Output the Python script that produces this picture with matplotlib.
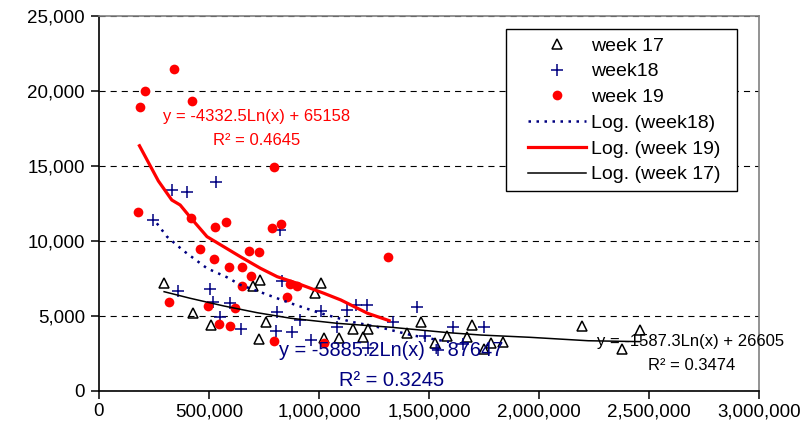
import matplotlib
matplotlib.use('Agg')
import matplotlib.pyplot as plt
from matplotlib.patches import Rectangle
from matplotlib.ticker import FuncFormatter

plt.rcParams['font.family'] = ['Liberation Sans', 'DejaVu Sans']

# scatter data
wk17_x = [294000, 429000, 509000, 701000, 732000, 759000, 727000, 1009000, 980000, 1024000,
          1091000, 1154000, 1222000, 1198000, 1400000, 1464000, 1529000, 1582000, 1674000, 1694000,
          1752000, 1780000, 1836000, 2197000, 2379000, 2461000]
wk17_y = [7220, 5200, 4400, 7030, 7430, 4600, 3470, 7230, 6510, 3500,
          3510, 4130, 4130, 3570, 3890, 4580, 3180, 3670, 3620, 4430,
          2830, 3180, 3290, 4330, 2810, 4050]

wk18_x = [246000, 331000, 400000, 534000, 360000, 504000, 518000, 595000, 550000, 645000,
          825000, 830000, 807000, 1008000, 803000, 879000, 964000, 1082000, 913000, 1126000,
          1167000, 1218000, 1221000, 1335000, 1446000, 1480000, 1540000, 1610000, 1655000, 1751000]
wk18_y = [11400, 13400, 13250, 13910, 6690, 6800, 5910, 5890, 4930, 4130,
          10730, 7330, 5290, 5330, 4000, 3950, 3400, 4290, 4730, 5400,
          5730, 5730, 2850, 4580, 5630, 3670, 2730, 4290, 3130, 4270]

wk19_x = [179000, 187000, 210000, 339000, 423000, 319000, 418000, 461000, 494000, 521000,
          529000, 544000, 578000, 593000, 594000, 620000, 648000, 648000, 684000, 692000,
          726000, 788000, 795000, 795000, 829000, 856000, 868000, 902000, 1023000, 1312000]
wk19_y = [11930, 18910, 20000, 21470, 19330, 5910, 11510, 9470, 5690, 8800,
          10950, 4450, 11290, 8290, 4330, 5510, 8290, 7020, 9350, 7670,
          9270, 10850, 14950, 3350, 11110, 6250, 7110, 7000, 3180, 8950]

# trend lines as drawn on the chart
log18_x = [263000, 309000, 384000, 491000, 582000, 643000, 749000, 871000, 1008000, 1145000,
           1296000, 1418000, 1591000]
log18_y = [11180, 10290, 9350, 8180, 7580, 7070, 6510, 5850, 5180, 4620, 4180, 3730, 3270]

log19_x = [184000, 270000, 331000, 369000, 415000, 491000, 567000, 643000, 734000, 810000,
           901000, 1023000, 1099000, 1221000, 1319000]
log19_y = [16350, 14000, 12730, 12400, 11580, 10290, 9620, 8950, 8180, 7620,
           7180, 6510, 6070, 5180, 4690]

log17_x = [296000, 415000, 567000, 719000, 871000, 1084000, 1327000, 1586000, 1737000, 1958000,
           2224000, 2462000]
log17_y = [6620, 6180, 5670, 5220, 4850, 4510, 4250, 3890, 3730, 3580, 3350, 3290]

fig = plt.figure(figsize=(8.1, 4.42), dpi=100)
ax = fig.add_axes([0.1222, 0.1154, 0.8148, 0.8484])

ax.plot(wk17_x, wk17_y, linestyle='none', marker='^', markersize=7, markerfacecolor='none',
        markeredgecolor='black', markeredgewidth=1.1, label='week 17', zorder=3)
ax.plot(wk18_x, wk18_y, linestyle='none', marker='+', markersize=9, markeredgewidth=1.1,
        color='#000080', label='week18', zorder=3)
ax.plot(wk19_x, wk19_y, linestyle='none', marker='o', markersize=7, color='#ff0000',
        markeredgewidth=0, label='week 19', zorder=3)
ax.plot(log18_x, log18_y, color='#000080', linestyle=(0, (1, 2.2)), linewidth=1.8,
        label='Log. (week18)', zorder=4)
ax.plot(log19_x, log19_y, color='#ff0000', linewidth=2.3, label='Log. (week 19)', zorder=4)
ax.plot(log17_x, log17_y, color='black', linewidth=1.1, label='Log. (week 17)', zorder=4)

ax.text(718000, 18290, 'y = -4332.5Ln(x) + 65158', color='#ff0000', fontsize=12,
        ha='center', va='center', zorder=5)
ax.text(718000, 16730, 'R² = 0.4645', color='#ff0000', fontsize=12,
        ha='center', va='center', zorder=5)
ax.text(1327000, 2730, 'y = -5885.2Ln(x) + 87647', color='#000080', fontsize=14.4,
        ha='center', va='center', zorder=5)
ax.text(1332000, 730, 'R² = 0.3245', color='#000080', fontsize=14.4,
        ha='center', va='center', zorder=5)
ax.text(2690000, 3290, 'y = -1587.3Ln(x) + 26605', color='black', fontsize=12,
        ha='center', va='center', zorder=5)
ax.text(2694000, 1690, 'R² = 0.3474', color='black', fontsize=12,
        ha='center', va='center', zorder=5)

ax.set_xlim(0, 3000000)
ax.set_ylim(0, 25000)
ax.set_xticks(range(0, 3000001, 500000))
ax.set_yticks(range(0, 25001, 5000))
ax.xaxis.set_major_formatter(FuncFormatter(lambda v, p: f'{int(v):,}'))
ax.yaxis.set_major_formatter(FuncFormatter(lambda v, p: f'{int(v):,}'))
ax.tick_params(direction='out', length=6, width=1.1, labelsize=13.5, colors='black')
ax.tick_params(axis='y', pad=4)
ax.tick_params(axis='x', pad=3)

ax.yaxis.grid(True, linestyle=(0, (5.5, 4.5)), color='black', linewidth=0.8)
ax.set_axisbelow(True)

for s in ['left', 'bottom']:
    ax.spines[s].set_color('black')
    ax.spines[s].set_linewidth(1.2)
for s in ['top', 'right']:
    ax.spines[s].set_color('#808080')
    ax.spines[s].set_linewidth(1.2)

# legend frame drawn separately so the padding can differ per side
box = Rectangle((0.617, 0.533), 0.350, 0.432, transform=ax.transAxes, facecolor='white',
                edgecolor='black', linewidth=1.0, zorder=6)
ax.add_patch(box)
leg = ax.legend(loc='upper left', bbox_to_anchor=(0.650, 0.944), borderaxespad=0,
                fontsize=14, numpoints=1, handlelength=3.0, handletextpad=0.25,
                labelspacing=0.42, borderpad=0, frameon=False)
leg.set_zorder(7)

fig.savefig('out.png', dpi=100)
